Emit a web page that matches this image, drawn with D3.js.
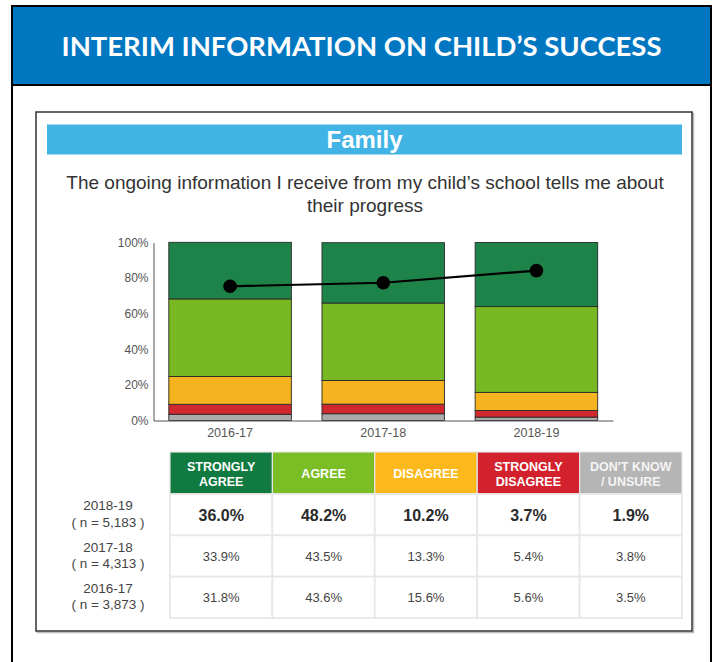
<!DOCTYPE html>
<html>
<head>
<meta charset="utf-8">
<script src="https://cdn.jsdelivr.net/npm/d3@7"></script>
<style>
  html, body { margin: 0; padding: 0; background: #fff; }
  svg { display: block; }
</style>
</head>
<body>
<svg id="chart" width="717" height="662"></svg>
<script>
// ---------- DATA ----------
const years = ["2016-17", "2017-18", "2018-19"];
const categories = ["Strongly Agree", "Agree", "Disagree", "Strongly Disagree", "Don't Know / Unsure"];
const headerLabels = [["STRONGLY", "AGREE"], ["AGREE"], ["DISAGREE"], ["STRONGLY", "DISAGREE"], ["DON'T KNOW", "/ UNSURE"]];
const stronglyAgree = [31.8, 33.9, 36.0];
const agree = [43.6, 43.5, 48.2];
const disagree = [15.6, 13.3, 10.2];
const stronglyDisagree = [5.6, 5.4, 3.7];
const dontKnow = [3.5, 3.8, 1.9];
const agreementLine = [75.4, 77.4, 84.2];
const sampleSizes = ["3,873", "4,313", "5,183"];
const yTicks = [0, 20, 40, 60, 80, 100];
const tableOrder = ["2018-19", "2017-18", "2016-17"];

const barColors = ["#1d8348", "#77b823", "#f5b31f", "#d0282f", "#ababab"];
const headColors = ["#107a40", "#7bbd25", "#fdb81b", "#d3222e", "#b5b5b5"];

const seriesValues = [stronglyAgree, agree, disagree, stronglyDisagree, dontKnow];

const svg = d3.select("#chart");

// ---------- FRAME ----------
svg.append("rect").attr("x", 12).attr("y", 6).attr("width", 699).attr("height", 700)
  .attr("fill", "#fff").attr("stroke", "#000").attr("stroke-width", 2);
svg.append("rect").attr("x", 12).attr("y", 6).attr("width", 699).attr("height", 79)
  .attr("fill", "#0277c1").attr("stroke", "#000").attr("stroke-width", 2);
svg.append("text").attr("x", 361.5).attr("y", 56).attr("text-anchor", "middle")
  .attr("font-family", "Lato, 'Open Sans', sans-serif").attr("font-weight", 700)
  .attr("font-size", 26).attr("fill", "#fff")
  .attr("textLength", 600).attr("lengthAdjust", "spacingAndGlyphs")
  .text("INTERIM INFORMATION ON CHILD’S SUCCESS");

// inner box
svg.append("rect").attr("x", 37.5).attr("y", 113.5).attr("width", 656).attr("height", 519)
  .attr("fill", "none").attr("stroke", "#bbb").attr("stroke-width", 1.5);
svg.append("rect").attr("x", 36).attr("y", 112).attr("width", 656).attr("height", 519)
  .attr("fill", "#fff").attr("stroke", "#333").attr("stroke-width", 1.5);

// Family bar
svg.append("rect").attr("x", 47).attr("y", 124.5).attr("width", 635).attr("height", 30)
  .attr("fill", "#41b4e5");
svg.append("text").attr("x", 364.5).attr("y", 148).attr("text-anchor", "middle")
  .attr("font-family", "'Liberation Sans', Arial, sans-serif").attr("font-weight", 700)
  .attr("font-size", 24).attr("fill", "#fff").text("Family");

// subtitle
const sub = svg.append("text").attr("text-anchor", "middle")
  .attr("font-family", "'Liberation Sans', Arial, sans-serif")
  .attr("font-size", 19).attr("fill", "#333");
sub.append("tspan").attr("x", 365).attr("y", 188.5)
  .text("The ongoing information I receive from my child’s school tells me about");
sub.append("tspan").attr("x", 365).attr("y", 212).text("their progress");

// ---------- CHART ----------
const x = d3.scaleBand().domain(years).range([153.5, 613]).paddingInner(0.2).paddingOuter(0.1);
const y = d3.scaleLinear().domain([0, 100]).range([420.5, 242.5]);

const stackRows = years.map((yr, i) => {
  const o = { year: yr };
  categories.forEach((c, k) => o[c] = seriesValues[k][i]);
  return o;
});
const stackKeys = categories.slice().reverse(); // bottom: don't know
const stacked = d3.stack().keys(stackKeys)(stackRows);

const g = svg.append("g");
stacked.forEach(layer => {
  const ci = categories.indexOf(layer.key);
  g.selectAll(null).data(layer).enter().append("rect")
    .attr("x", d => x(d.data.year))
    .attr("width", x.bandwidth())
    .attr("y", d => y(d[1]))
    .attr("height", d => y(d[0]) - y(d[1]))
    .attr("fill", barColors[ci])
    .attr("stroke", "#2a2a2a").attr("stroke-width", 0.9);
});

// axes
const yAxis = d3.axisLeft(y).tickValues(yTicks).tickSize(0).tickPadding(5).tickFormat(d => d + "%");
const ya = svg.append("g").attr("transform", "translate(153.5,0)").call(yAxis);
ya.select(".domain").attr("stroke", "#555").attr("stroke-width", 1);
ya.selectAll("text").attr("font-family", "'Liberation Sans', Arial, sans-serif")
  .attr("font-size", 12).attr("fill", "#555");

const xAxis = d3.axisBottom(x).tickSize(0).tickPadding(8);
const xa = svg.append("g").attr("transform", "translate(0,420.5)").call(xAxis);
xa.select(".domain").attr("stroke", "#555").attr("stroke-width", 1.2);
xa.selectAll("text").attr("font-family", "'Liberation Sans', Arial, sans-serif")
  .attr("font-size", 12.5).attr("fill", "#555");

// line
const line = d3.line().x((d, i) => x(years[i]) + x.bandwidth() / 2).y(d => y(d));
svg.append("path").datum(agreementLine).attr("d", line)
  .attr("fill", "none").attr("stroke", "#000").attr("stroke-width", 2.2);
svg.selectAll(null).data(agreementLine).enter().append("circle")
  .attr("cx", (d, i) => x(years[i]) + x.bandwidth() / 2)
  .attr("cy", d => y(d)).attr("r", 6.8).attr("fill", "#000");

// ---------- TABLE ----------
const colX = d3.scaleBand().domain(categories).range([170, 682]);
const headTop = 452, headBot = 494;
const rowY = d3.scaleBand().domain(tableOrder).range([headBot, 618]);
const font = "'Liberation Sans', Arial, sans-serif";

categories.forEach((c, k) => {
  svg.append("rect").attr("x", colX(c)).attr("y", headTop)
    .attr("width", colX.bandwidth()).attr("height", headBot - headTop)
    .attr("fill", headColors[k]).attr("stroke", "#e4e4e4").attr("stroke-width", 1.2);
  const lines = headerLabels[k];
  const cx = colX(c) + colX.bandwidth() / 2;
  const mid = (headTop + headBot) / 2;
  lines.forEach((t, j) => {
    svg.append("text").attr("x", cx)
      .attr("y", mid + 5 + (j - (lines.length - 1) / 2) * 15)
      .attr("text-anchor", "middle").attr("font-family", font)
      .attr("font-weight", 700).attr("font-size", 12.5)
      .attr("fill", k === 4 ? "#f4f4f4" : "#fff").text(t);
  });
});

tableOrder.forEach((yr, r) => {
  const yi = years.indexOf(yr);
  const top = rowY(yr), h = rowY.bandwidth(), mid = top + h / 2;
  categories.forEach((c, k) => {
    svg.append("rect").attr("x", colX(c)).attr("y", top)
      .attr("width", colX.bandwidth()).attr("height", h)
      .attr("fill", "#fff").attr("stroke", "#e8e8e8").attr("stroke-width", 1.8);
    const v = seriesValues[k][yi];
    svg.append("text").attr("x", colX(c) + colX.bandwidth() / 2)
      .attr("y", mid + (r === 0 ? 6 : 4.5))
      .attr("text-anchor", "middle").attr("font-family", font)
      .attr("font-weight", r === 0 ? 700 : 400)
      .attr("font-size", r === 0 ? 16 : 13)
      .attr("fill", r === 0 ? "#2a2a2a" : "#444")
      .text(v.toFixed(1) + "%");
  });
  const lbl = svg.append("text").attr("text-anchor", "middle").attr("font-family", font)
    .attr("font-size", 13.5).attr("fill", "#444");
  lbl.append("tspan").attr("x", 108).attr("y", mid - 4.5).text(yr);
  lbl.append("tspan").attr("x", 108).attr("y", mid + 12).text("( n = " + sampleSizes[yi] + " )");
});
</script>
</body>
</html>
